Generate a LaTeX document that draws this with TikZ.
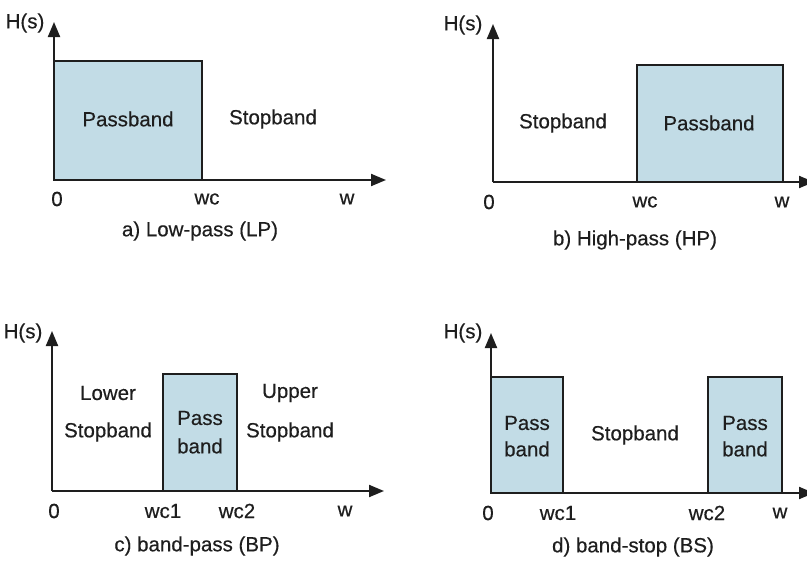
\documentclass[tikz,border=0pt]{standalone}
\usepackage{fontspec}
\setmainfont[FakeBold=0.4]{Liberation Sans}
\usetikzlibrary{arrows.meta}
\definecolor{bandfill}{HTML}{C2DCE6}
\definecolor{ink}{HTML}{1E1E1E}
\begin{document}
\begin{tikzpicture}[x=1pt,y=-1pt,
  axis/.style={draw=ink,line width=2pt,-{Triangle[length=15pt,width=12pt]}},
  bandbox/.style={draw=ink,line width=1.8pt,fill=bandfill},
  lbl/.style={font=\fontsize{20.5}{24}\selectfont,text=ink,inner sep=0pt,align=center},
  captext/.style={font=\fontsize{20.5}{24}\selectfont,text=ink,inner sep=0pt}]
\useasboundingbox (0,0) rectangle (807,565);
\fill[white] (0,0) rectangle (807,565);

% ---------- a) Low-pass ----------
\coordinate (ao) at (54,180);
\coordinate (ay) at (54,22);
\coordinate (ax) at (386,180);
\coordinate (ar1) at (54,61);
\coordinate (ar2) at (202,180);
\draw[bandbox] (ar1) rectangle (ar2);
\draw[axis] (ao) -- (ay);
\draw[axis] (ao) -- (ax);
\node[lbl] (aH) at (25,23) {H(s)};
\node[lbl] (aP) at (128,119) {Passband};
\node[lbl] (aS) at (273,119) {Stopband};
\node[lbl] (a0) at (57,199) {0};
\node[lbl] (awc) at (207,199) {wc};
\node[lbl] (aw) at (347,199) {w};
\node[captext] (acap) at (200,231) {a) Low-pass (LP)};

% ---------- b) High-pass ----------
\coordinate (bo) at (493,182);
\coordinate (by) at (493,24);
\coordinate (bx) at (814,182);
\coordinate (br1) at (637,65);
\coordinate (br2) at (783,182);
\draw[bandbox] (br1) rectangle (br2);
\draw[axis] (bo) -- (by);
\draw[axis] (bo) -- (bx);
\node[lbl] (bH) at (463,25) {H(s)};
\node[lbl] (bS) at (563,123) {Stopband};
\node[lbl] (bP) at (709,123) {Passband};
\node[lbl] (b0) at (489,202) {0};
\node[lbl] (bwc) at (645,202) {wc};
\node[lbl] (bw) at (782,202) {w};
\node[captext] (bcap) at (635,240) {b) High-pass (HP)};

% ---------- c) band-pass ----------
\coordinate (co) at (52,491);
\coordinate (cy) at (52,331);
\coordinate (cx) at (384,491);
\coordinate (cr1) at (163,374);
\coordinate (cr2) at (237,491);
\draw[bandbox] (cr1) rectangle (cr2);
\draw[axis] (co) -- (cy);
\draw[axis] (co) -- (cx);
\node[lbl] (cH) at (23,333) {H(s)};
\node[lbl] (cL1) at (108,393) {Lower};
\node[lbl] (cL2) at (108,432) {Stopband};
\node[lbl] (cP1) at (200,418) {Pass};
\node[lbl] (cP2) at (200,446) {band};
\node[lbl] (cU1) at (290,393) {Upper};
\node[lbl] (cU2) at (290,432) {Stopband};
\node[lbl] (c0) at (54,511) {0};
\node[lbl] (cwc1) at (163,511) {wc1};
\node[lbl] (cwc2) at (237,511) {wc2};
\node[lbl] (cw) at (345,511) {w};
\node[captext] (ccap) at (197,546) {c) band-pass (BP)};

% ---------- d) band-stop ----------
\coordinate (do) at (491,493);
\coordinate (dy) at (491,333);
\coordinate (dx) at (814,493);
\coordinate (dr1) at (491,377);
\coordinate (dr2) at (563,493);
\coordinate (dr3) at (708,377);
\coordinate (dr4) at (782,493);
\draw[bandbox] (dr1) rectangle (dr2);
\draw[bandbox] (dr3) rectangle (dr4);
\draw[axis] (do) -- (dy);
\draw[axis] (do) -- (dx);
\node[lbl] (dH) at (463,333) {H(s)};
\node[lbl] (dP1a) at (527,423) {Pass};
\node[lbl] (dP1b) at (527,449) {band};
\node[lbl] (dS) at (635,435) {Stopband};
\node[lbl] (dP2a) at (745,423) {Pass};
\node[lbl] (dP2b) at (745,449) {band};
\node[lbl] (d0) at (488,513) {0};
\node[lbl] (dwc1) at (558,513) {wc1};
\node[lbl] (dwc2) at (707,513) {wc2};
\node[lbl] (dw) at (780,513) {w};
\node[captext] (dcap) at (633,547) {d) band-stop (BS)};
\end{tikzpicture}
\end{document}
